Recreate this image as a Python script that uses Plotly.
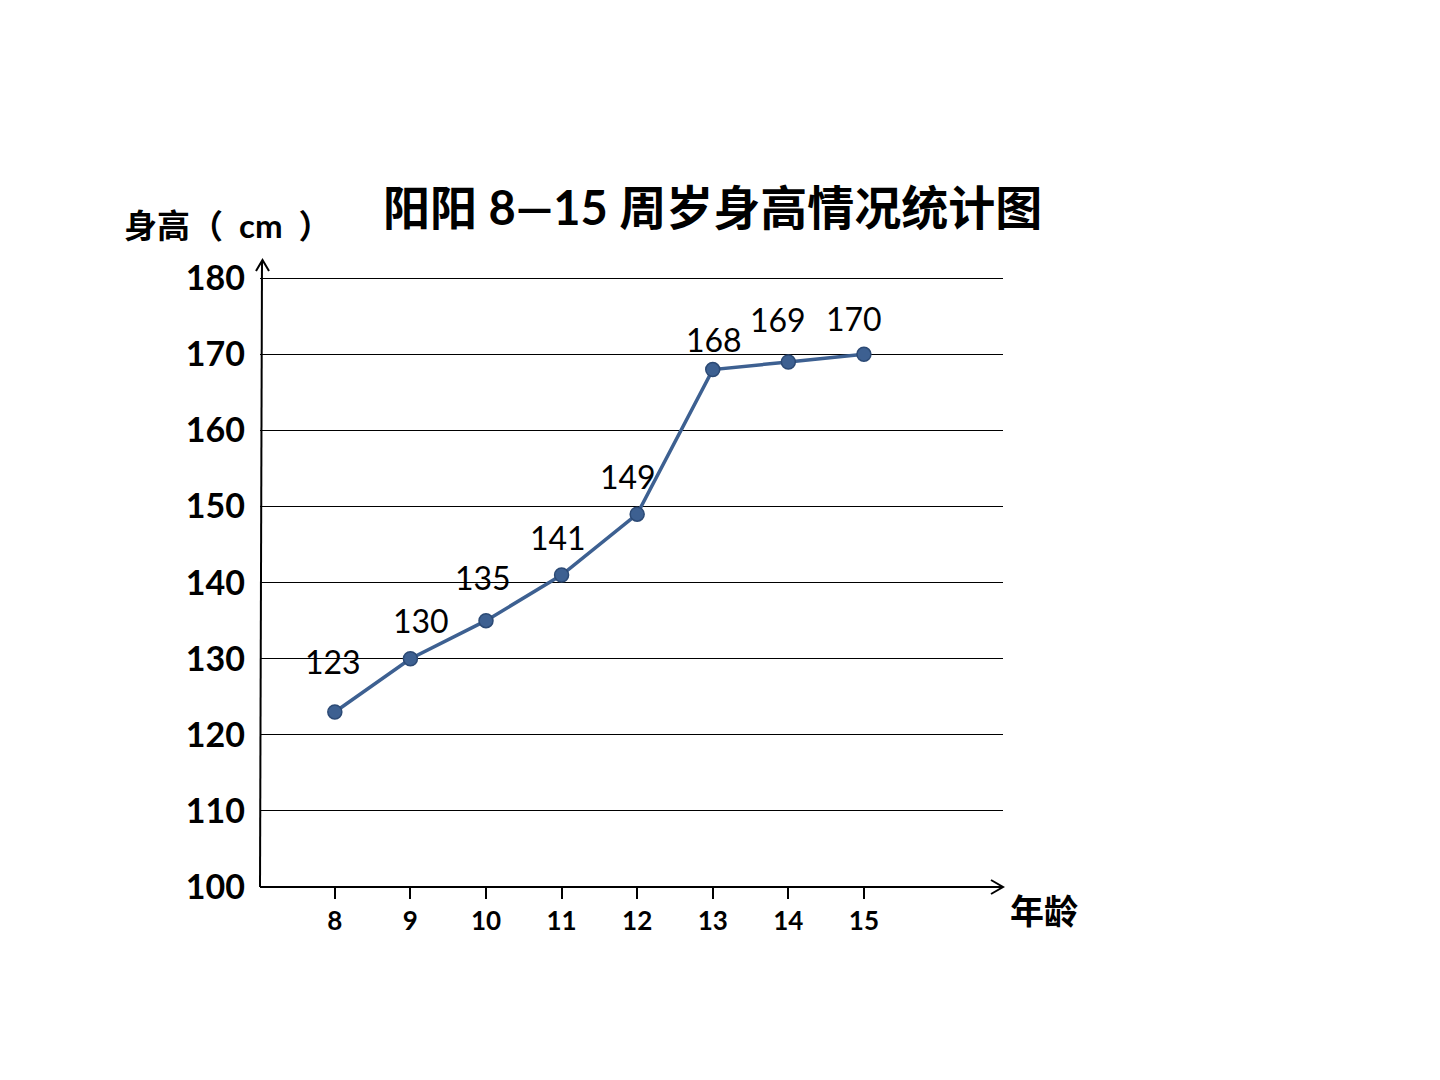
import plotly.graph_objects as go

ages = [8, 9, 10, 11, 12, 13, 14, 15]
heights = [123, 130, 135, 141, 149, 168, 169, 170]
age_labels = ["8", "9", "10", "11", "12", "13", "14", "15"]
y_ticks = [100, 110, 120, 130, 140, 150, 160, 170, 180]

title_text = "阳阳 8—15 周岁身高情况统计图"
y_title = "身高（&nbsp;&nbsp;cm&nbsp;&nbsp;）"
x_title = "年龄"

FONT = "Lato, 'Noto Sans CJK SC', sans-serif"
LINE = "#3d6091"

# label offsets (px) relative to each point
label_dx = [-2, 11, -3, -4, -9, 1, -10, -10]
label_dy = [50, 38, 43, 38, 38, 30, 42, 36]

L, R, T, B = 260, 437, 260, 193
pw, ph = 1440 - L - R, 1080 - T - B


def px(x):
    return (x - L) / pw


def py(y):
    return (1080 - B - y) / ph


fig = go.Figure()
fig.add_trace(go.Scatter(
    x=ages, y=heights, mode="lines+markers",
    line=dict(color=LINE, width=3.5),
    marker=dict(size=14, color=LINE, line=dict(color="#2c4a75", width=1.5)),
    hoverinfo="skip", showlegend=False,
))

annotations = []
for a, h, dx, dy in zip(ages, heights, label_dx, label_dy):
    annotations.append(dict(x=a, y=h, xref="x", yref="y", text=str(h), showarrow=False,
                            xshift=dx, yshift=dy, font=dict(family=FONT, size=32, color="black")))

annotations.append(dict(x=px(712), y=py(207), xref="paper", yref="paper", text=f"<b>{title_text}</b>",
                        xanchor="center", yanchor="middle",
                        showarrow=False, font=dict(family=FONT, size=47, color="black")))
annotations.append(dict(x=px(228), y=py(225), xref="paper", yref="paper", text=f"<b>{y_title}</b>",
                        xanchor="center", yanchor="middle",
                        showarrow=False, font=dict(family=FONT, size=33, color="black")))
annotations.append(dict(x=px(1044), y=py(910), xref="paper", yref="paper", text=f"<b>{x_title}</b>",
                        xanchor="center", yanchor="middle",
                        showarrow=False, font=dict(family=FONT, size=34, color="black")))

shapes = []
ax_style = dict(color="black", width=2)
# axes
shapes.append(dict(type="line", xref="paper", yref="paper", x0=px(260), y0=py(887), x1=px(262), y1=py(261), line=ax_style))
shapes.append(dict(type="line", xref="paper", yref="paper", x0=px(260), y0=py(887), x1=px(1002), y1=py(887), line=ax_style))
# open arrow heads
shapes.append(dict(type="path", xref="paper", yref="paper",
                   path=f"M {px(256)},{py(271)} L {px(262.5)},{py(260)} L {px(269)},{py(271)}", line=ax_style))
shapes.append(dict(type="path", xref="paper", yref="paper",
                   path=f"M {px(991)},{py(880)} L {px(1003)},{py(887)} L {px(991)},{py(894)}", line=ax_style))

fig.update_layout(
    width=1440, height=1080,
    margin=dict(l=L, r=R, t=T, b=B),
    paper_bgcolor="white", plot_bgcolor="white",
    annotations=annotations, shapes=shapes,
    xaxis=dict(range=[7.01, 16.84], tickvals=ages, ticktext=[f"<b>{t}</b>" for t in age_labels],
               ticks="outside", ticklen=11, tickwidth=2, tickcolor="black",
               showgrid=False, zeroline=False, showline=False,
               tickfont=dict(family=FONT, size=26, color="black")),
    yaxis=dict(range=[100, 182.4], tickvals=y_ticks, ticktext=[f"<b>{t}</b>" for t in y_ticks],
               showgrid=True, gridcolor="black", gridwidth=1.2, zeroline=False, showline=False,
               ticks="", ticklabelstandoff=14,
               tickfont=dict(family=FONT, size=34, color="black")),
)

fig.write_html("out.html")
